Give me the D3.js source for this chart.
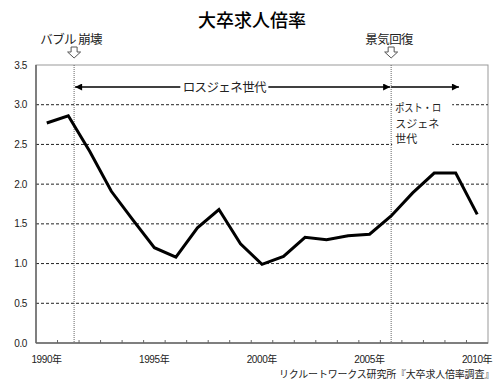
<!DOCTYPE html>
<html>
<head>
<meta charset="utf-8">
<script src="https://cdn.jsdelivr.net/npm/d3@7"></script>
<style>
  body { margin: 0; background: #fff; }
  svg { display: block; }
</style>
</head>
<body>
<svg id="chart"></svg>
<script>
const years = d3.range(1990, 2011);
const ratios = [2.77, 2.86, 2.41, 1.91, 1.55, 1.20, 1.08, 1.45, 1.68, 1.25,
                0.99, 1.09, 1.33, 1.30, 1.35, 1.37, 1.60, 1.89, 2.14, 2.14, 1.62];
const yTicks = [0, 0.5, 1.0, 1.5, 2.0, 2.5, 3.0, 3.5];
const xLabelYears = [1990, 1995, 2000, 2005, 2010];
const bubbleYear = 1991.27;
const recoveryYear = 2006;
const postArrowEnd = 2009.15;
const lostGenLabelYear = 1998.25;

const width = 500;
const height = 390;
const jp = "'Noto Sans CJK JP', sans-serif";
const num = "'Liberation Sans', Arial, sans-serif";

const svg = d3.select("#chart")
  .attr("width", width)
  .attr("height", height);

const plotLeft = 36, plotRight = 488, plotTop = 65, plotBottom = 343;

const x = d3.scaleLinear().domain([1989.5, 2010.5]).range([plotLeft, plotRight]);
const y = d3.scaleLinear().domain([0, 3.5]).range([plotBottom, plotTop]);

// title
svg.append("text")
  .attr("x", 252).attr("y", 27)
  .attr("text-anchor", "middle")
  .attr("font-family", jp).attr("font-size", 18)
  .attr("font-weight", 500)
  .text("大卒求人倍率");

// plot frame
svg.append("rect")
  .attr("x", plotLeft).attr("y", plotTop)
  .attr("width", plotRight - plotLeft).attr("height", plotBottom - plotTop)
  .attr("fill", "none").attr("stroke", "#999").attr("stroke-width", 1);

// grid
svg.selectAll(".grid")
  .data(yTicks.filter(v => v > 0 && v < 3.5))
  .enter().append("line")
  .attr("class", "grid")
  .attr("x1", plotLeft).attr("x2", plotRight)
  .attr("y1", d => y(d)).attr("y2", d => y(d))
  .attr("stroke", "#222").attr("stroke-width", 1)
  .attr("stroke-dasharray", "3,2");

// y labels
svg.selectAll(".ylab")
  .data(yTicks)
  .enter().append("text")
  .attr("class", "ylab")
  .attr("x", 27).attr("y", d => y(d) + 3.5)
  .attr("text-anchor", "end")
  .attr("font-family", num).attr("font-size", 10)
  .attr("letter-spacing", -0.4)
  .attr("fill", "#222")
  .text(d => d.toFixed(1));

// left + bottom axis lines
svg.append("line")
  .attr("x1", plotLeft).attr("x2", plotLeft).attr("y1", plotTop).attr("y2", plotBottom)
  .attr("stroke", "#666").attr("stroke-width", 1.5);
svg.append("line")
  .attr("x1", plotLeft).attr("x2", plotRight).attr("y1", plotBottom).attr("y2", plotBottom)
  .attr("stroke", "#666").attr("stroke-width", 1.5);

// category tick marks (inside)
svg.selectAll(".xtick")
  .data(d3.range(1990.5, 2010.5, 1))
  .enter().append("line")
  .attr("class", "xtick")
  .attr("x1", d => x(d)).attr("x2", d => x(d))
  .attr("y1", plotBottom).attr("y2", plotBottom - 3)
  .attr("stroke", "#666").attr("stroke-width", 1);

// x labels
svg.selectAll(".xlab")
  .data(xLabelYears)
  .enter().append("text")
  .attr("class", "xlab")
  .attr("x", d => x(d)).attr("y", 363)
  .attr("text-anchor", "middle")
  .attr("font-size", 10)
  .attr("fill", "#222")
  .each(function(d) {
    const t = d3.select(this);
    t.append("tspan").attr("font-family", num).attr("letter-spacing", -0.4).text(d);
    t.append("tspan").attr("font-family", jp).text("年");
  });

// vertical event lines
svg.selectAll(".vline")
  .data([bubbleYear, recoveryYear])
  .enter().append("line")
  .attr("class", "vline")
  .attr("x1", d => x(d)).attr("x2", d => x(d))
  .attr("y1", plotTop).attr("y2", plotBottom)
  .attr("stroke", "#666").attr("stroke-width", 1)
  .attr("stroke-dasharray", "1,1");

// post lost generation text box
svg.append("rect")
  .attr("x", x(recoveryYear) + 1).attr("y", 97)
  .attr("width", 60).attr("height", 53)
  .attr("fill", "#fff");
const boxLines = ["ポスト・ロ", "スジェネ", "世代"];
svg.selectAll(".boxtxt")
  .data(boxLines)
  .enter().append("text")
  .attr("class", "boxtxt")
  .attr("x", x(recoveryYear) + 4)
  .attr("y", (d, i) => 112 + i * 15.5)
  .attr("font-family", jp).attr("font-size", 11)
  .attr("fill", "#222")
  .each(function(d, i) {
    if (i === 0) d3.select(this).attr("textLength", 46).attr("lengthAdjust", "spacingAndGlyphs");
  })
  .text(d => d);

// arrow markers
const defs = svg.append("defs");
defs.append("marker")
  .attr("id", "head")
  .attr("viewBox", "0 0 10 10")
  .attr("refX", 10).attr("refY", 5)
  .attr("markerWidth", 9).attr("markerHeight", 7)
  .attr("markerUnits", "userSpaceOnUse")
  .attr("orient", "auto-start-reverse")
  .append("path")
  .attr("d", "M0,0 L10,5 L0,10 Z")
  .attr("fill", "#000");

const arrowY = 87;
svg.append("line")
  .attr("x1", x(bubbleYear) + 1).attr("x2", x(recoveryYear) - 1)
  .attr("y1", arrowY).attr("y2", arrowY)
  .attr("stroke", "#000").attr("stroke-width", 1.5)
  .attr("marker-start", "url(#head)")
  .attr("marker-end", "url(#head)");
svg.append("line")
  .attr("x1", x(recoveryYear)).attr("x2", x(postArrowEnd))
  .attr("y1", arrowY).attr("y2", arrowY)
  .attr("stroke", "#000").attr("stroke-width", 1.5)
  .attr("marker-end", "url(#head)");

// lost generation label
svg.append("rect")
  .attr("x", x(lostGenLabelYear) - 44).attr("y", arrowY - 8)
  .attr("width", 88).attr("height", 16)
  .attr("fill", "#fff");
svg.append("text")
  .attr("x", x(lostGenLabelYear)).attr("y", arrowY + 4.5)
  .attr("text-anchor", "middle")
  .attr("font-family", jp).attr("font-size", 12.5)
  .attr("letter-spacing", -0.6)
  .attr("fill", "#222")
  .text("ロスジェネ世代");

// hollow down arrows + event labels
const events = [
  { year: bubbleYear, label: "バブル 崩壊", dx: -3 },
  { year: recoveryYear, label: "景気回復", dx: -2 }
];
svg.selectAll(".downarrow")
  .data(events)
  .enter().append("path")
  .attr("class", "downarrow")
  .attr("transform", d => `translate(${x(d.year)},47)`)
  .attr("d", "M-3,0 L3,0 L3,5 L6.5,5 L0,11 L-6.5,5 L-3,5 Z")
  .attr("fill", "#fff")
  .attr("stroke", "#555").attr("stroke-width", 1);
svg.selectAll(".evlab")
  .data(events)
  .enter().append("text")
  .attr("class", "evlab")
  .attr("x", d => x(d.year) + d.dx).attr("y", 44)
  .attr("text-anchor", "middle")
  .attr("font-family", jp).attr("font-size", 12.5)
  .attr("letter-spacing", -0.6)
  .attr("fill", "#222")
  .text(d => d.label);

// data line
const line = d3.line()
  .x((d, i) => x(years[i]))
  .y(d => y(d));
svg.append("path")
  .datum(ratios)
  .attr("fill", "none")
  .attr("stroke", "#000")
  .attr("stroke-width", 3)
  .attr("stroke-linejoin", "miter")
  .attr("d", line);

// source
svg.append("text")
  .attr("x", 494).attr("y", 378)
  .attr("text-anchor", "end")
  .attr("font-family", jp).attr("font-size", 10)
  .attr("letter-spacing", -0.2)
  .attr("fill", "#222")
  .text("リクルートワークス研究所『大卒求人倍率調査』");
</script>
</body>
</html>
